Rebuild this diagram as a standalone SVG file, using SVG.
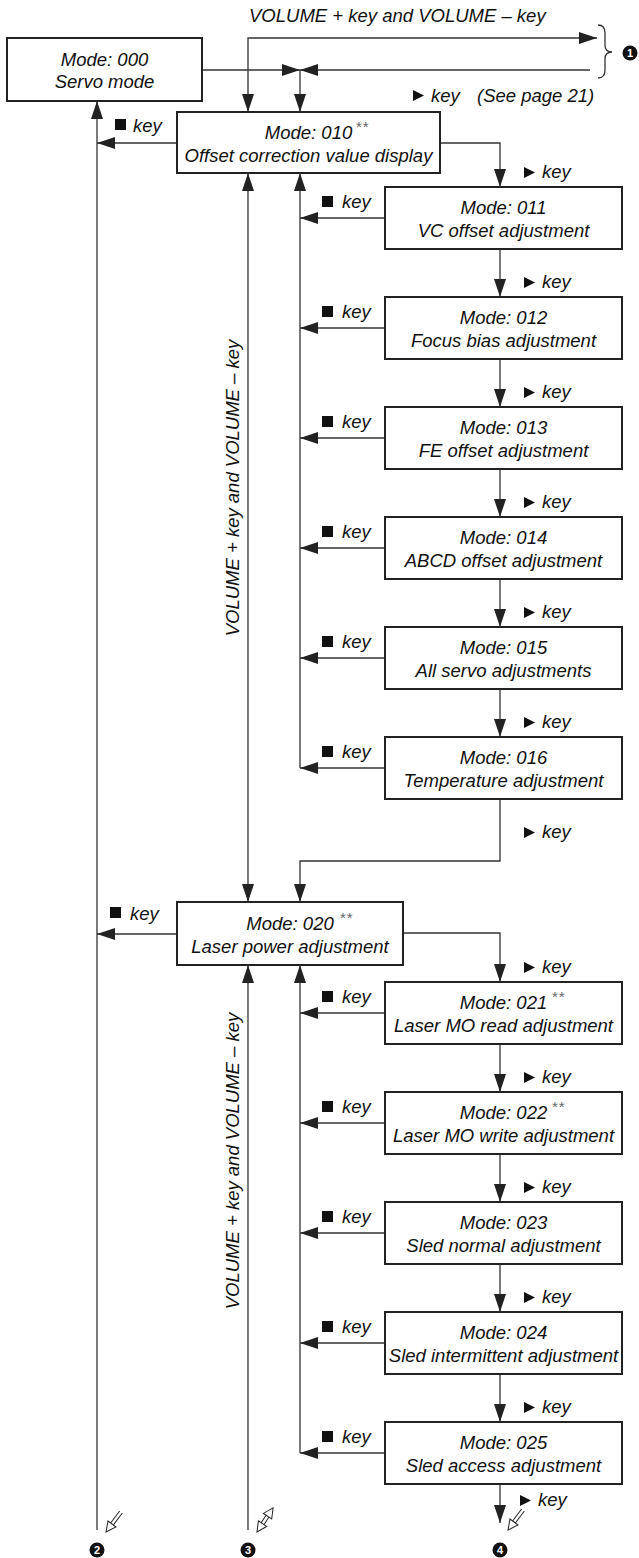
<svg xmlns="http://www.w3.org/2000/svg" xmlns:xlink="http://www.w3.org/1999/xlink" width="639" height="1558" viewBox="0 0 639 1558">
<style>
.bg{fill:#fff}
.box{fill:#fff;stroke:#222;stroke-width:2}
.ln{fill:none;stroke:#333;stroke-width:1.3}
.t{font-family:"Liberation Sans",Arial,sans-serif;font-style:italic;font-size:18.5px;fill:#111}
.c{text-anchor:middle}
.ast{font-family:"Liberation Sans",Arial,sans-serif;font-size:15px;fill:#666;letter-spacing:1px}
.num{font-family:"Liberation Sans",Arial,sans-serif;font-weight:bold;font-size:11px;fill:#fff;text-anchor:middle}
.sym{fill:#111}
.dbl{fill:#fff;stroke:#222;stroke-width:1}
</style>
<defs>
<marker id="ah" viewBox="0 0 18 12" refX="18" refY="6" markerWidth="18" markerHeight="12" markerUnits="userSpaceOnUse" orient="auto-start-reverse"><path d="M0,0 L18,6 L0,12 z" fill="#222"/></marker>
<path id="tri" d="M0,0 L11,5.5 L0,11 z"/>
<g id="harrow"><path d="M0,-1.7 L16,-1.7 M0,1.7 L16,1.7" stroke="#222" stroke-width="1" fill="none"/><path class="dbl" d="M25,0 L15,-5 L15,5 z"/></g>
<g id="harrow2"><path d="M9,-1.7 L20,-1.7 M9,1.7 L20,1.7" stroke="#222" stroke-width="1" fill="none"/><path class="dbl" d="M29,0 L19,-5 L19,5 z"/><path class="dbl" d="M0,0 L10,-5 L10,5 z"/></g>
</defs>
<rect class="bg" x="0" y="0" width="639" height="1558"/>

<g id="connectors">
<path class="ln" d="M248,112 L248,38 L597,38" marker-start="url(#ah)" marker-end="url(#ah)"/>
<path class="ln" d="M202,70 L300,70" marker-end="url(#ah)"/>
<path class="ln" d="M590,70 L300,70" marker-end="url(#ah)"/>
<path class="ln" d="M300,70 L300,112" marker-end="url(#ah)"/>
<path class="ln" d="M598,25 Q605,25 605,33 L605,45 Q605,52 612,52 Q605,52 605,59 L605,70 Q605,78 598,78"/>
<path class="ln" d="M97,1530 L97,101" marker-end="url(#ah)"/>
<path class="ln" d="M177,143 L97,143" marker-end="url(#ah)"/>
<path class="ln" d="M440,143 L500,143 L500,187" marker-end="url(#ah)"/>
<path class="ln" d="M248,173 L248,902" marker-start="url(#ah)" marker-end="url(#ah)"/>
<path class="ln" d="M300,768 L300,173" marker-end="url(#ah)"/>
<path class="ln" d="M385,218 L300,218" marker-end="url(#ah)"/>
<path class="ln" d="M385,328 L300,328" marker-end="url(#ah)"/>
<path class="ln" d="M385,438 L300,438" marker-end="url(#ah)"/>
<path class="ln" d="M385,548 L300,548" marker-end="url(#ah)"/>
<path class="ln" d="M385,658 L300,658" marker-end="url(#ah)"/>
<path class="ln" d="M385,768 L300,768" marker-end="url(#ah)"/>
<path class="ln" d="M500,249 L500,297" marker-end="url(#ah)"/>
<path class="ln" d="M500,359 L500,407" marker-end="url(#ah)"/>
<path class="ln" d="M500,469 L500,517" marker-end="url(#ah)"/>
<path class="ln" d="M500,579 L500,627" marker-end="url(#ah)"/>
<path class="ln" d="M500,689 L500,737" marker-end="url(#ah)"/>
<path class="ln" d="M500,799 L500,861 L300,861 L300,902" marker-end="url(#ah)"/>
<path class="ln" d="M177,934 L97,934" marker-end="url(#ah)"/>
<path class="ln" d="M403,933 L500,933 L500,982" marker-end="url(#ah)"/>
<path class="ln" d="M248,1530 L248,965" marker-end="url(#ah)"/>
<path class="ln" d="M300,1453 L300,965" marker-end="url(#ah)"/>
<path class="ln" d="M385,1013 L300,1013" marker-end="url(#ah)"/>
<path class="ln" d="M385,1123 L300,1123" marker-end="url(#ah)"/>
<path class="ln" d="M385,1233 L300,1233" marker-end="url(#ah)"/>
<path class="ln" d="M385,1343 L300,1343" marker-end="url(#ah)"/>
<path class="ln" d="M385,1453 L300,1453" marker-end="url(#ah)"/>
<path class="ln" d="M500,1044 L500,1092" marker-end="url(#ah)"/>
<path class="ln" d="M500,1154 L500,1202" marker-end="url(#ah)"/>
<path class="ln" d="M500,1264 L500,1312" marker-end="url(#ah)"/>
<path class="ln" d="M500,1374 L500,1422" marker-end="url(#ah)"/>
<path class="ln" d="M500,1484 L500,1523" marker-end="url(#ah)"/>
<use xlink:href="#harrow" href="#harrow" transform="translate(121,1512) rotate(126.87)"/>
<use xlink:href="#harrow2" href="#harrow2" transform="translate(257,1532) rotate(-56.3)"/>
<use xlink:href="#harrow" href="#harrow" transform="translate(523,1510) rotate(126.87)"/>
</g>

<g id="labels">
<text class="t" x="249" y="22">VOLUME + key and VOLUME – key</text>
<use class="sym" href="#tri" xlink:href="#tri" x="413" y="90"/>
<text class="t" x="431" y="102">key</text>
<text class="t" x="477" y="102">(See page 21)</text>
<text class="t c" transform="translate(239,488) rotate(-90)">VOLUME + key and VOLUME – key</text>
<text class="t c" transform="translate(239,1161) rotate(-90)">VOLUME + key and VOLUME – key</text>
<rect class="sym" x="115" y="119" width="11" height="11"/><text class="t" x="133" y="132">key</text>
<rect class="sym" x="110" y="907" width="11" height="11"/><text class="t" x="130" y="920">key</text>
<use class="sym" href="#tri" xlink:href="#tri" x="524" y="167"/><text class="t" x="542" y="178">key</text>
<use class="sym" href="#tri" xlink:href="#tri" x="524" y="277"/><text class="t" x="542" y="288">key</text>
<use class="sym" href="#tri" xlink:href="#tri" x="524" y="387"/><text class="t" x="542" y="398">key</text>
<use class="sym" href="#tri" xlink:href="#tri" x="524" y="497"/><text class="t" x="542" y="508">key</text>
<use class="sym" href="#tri" xlink:href="#tri" x="524" y="607"/><text class="t" x="542" y="618">key</text>
<use class="sym" href="#tri" xlink:href="#tri" x="524" y="717"/><text class="t" x="542" y="728">key</text>
<use class="sym" href="#tri" xlink:href="#tri" x="524" y="827"/><text class="t" x="542" y="838">key</text>
<use class="sym" href="#tri" xlink:href="#tri" x="524" y="962"/><text class="t" x="542" y="973">key</text>
<use class="sym" href="#tri" xlink:href="#tri" x="524" y="1072"/><text class="t" x="542" y="1083">key</text>
<use class="sym" href="#tri" xlink:href="#tri" x="524" y="1182"/><text class="t" x="542" y="1193">key</text>
<use class="sym" href="#tri" xlink:href="#tri" x="524" y="1292"/><text class="t" x="542" y="1303">key</text>
<use class="sym" href="#tri" xlink:href="#tri" x="524" y="1402"/><text class="t" x="542" y="1413">key</text>
<use class="sym" href="#tri" xlink:href="#tri" x="520" y="1495"/><text class="t" x="538" y="1506">key</text>
<rect class="sym" x="322" y="196" width="11" height="11"/><text class="t" x="342" y="208">key</text>
<rect class="sym" x="322" y="306" width="11" height="11"/><text class="t" x="342" y="318">key</text>
<rect class="sym" x="322" y="416" width="11" height="11"/><text class="t" x="342" y="428">key</text>
<rect class="sym" x="322" y="526" width="11" height="11"/><text class="t" x="342" y="538">key</text>
<rect class="sym" x="322" y="636" width="11" height="11"/><text class="t" x="342" y="648">key</text>
<rect class="sym" x="322" y="746" width="11" height="11"/><text class="t" x="342" y="758">key</text>
<rect class="sym" x="322" y="991" width="11" height="11"/><text class="t" x="342" y="1003">key</text>
<rect class="sym" x="322" y="1101" width="11" height="11"/><text class="t" x="342" y="1113">key</text>
<rect class="sym" x="322" y="1211" width="11" height="11"/><text class="t" x="342" y="1223">key</text>
<rect class="sym" x="322" y="1321" width="11" height="11"/><text class="t" x="342" y="1333">key</text>
<rect class="sym" x="322" y="1431" width="11" height="11"/><text class="t" x="342" y="1443">key</text>
<circle class="sym" cx="630" cy="53" r="7.5"/><text class="num" x="630" y="57">1</text>
<circle class="sym" cx="97" cy="1550" r="7.5"/><text class="num" x="97" y="1554">2</text>
<circle class="sym" cx="248" cy="1550" r="7.5"/><text class="num" x="248" y="1554">3</text>
<circle class="sym" cx="500" cy="1550" r="7.5"/><text class="num" x="500" y="1554">4</text>
</g>

<g id="n000"><rect class="box" x="7" y="38" width="195" height="63"/><text class="t c" x="104.5" y="66">Mode: 000</text><text class="t c" x="104.5" y="88">Servo mode</text></g>
<g id="n010"><rect class="box" x="177" y="112" width="263" height="61"/><text class="t c" x="308.5" y="139">Mode: 010</text><text class="ast" x="356" y="132">**</text><text class="t c" x="308.5" y="162">Offset correction value display</text></g>
<g id="n011"><rect class="box" x="385" y="187" width="237" height="62"/><text class="t c" x="503.5" y="214">Mode: 011</text><text class="t c" x="503.5" y="237">VC offset adjustment</text></g>
<g id="n012"><rect class="box" x="385" y="297" width="237" height="62"/><text class="t c" x="503.5" y="324">Mode: 012</text><text class="t c" x="503.5" y="347">Focus bias adjustment</text></g>
<g id="n013"><rect class="box" x="385" y="407" width="237" height="62"/><text class="t c" x="503.5" y="434">Mode: 013</text><text class="t c" x="503.5" y="457">FE offset adjustment</text></g>
<g id="n014"><rect class="box" x="385" y="517" width="237" height="62"/><text class="t c" x="503.5" y="544">Mode: 014</text><text class="t c" x="503.5" y="567">ABCD offset adjustment</text></g>
<g id="n015"><rect class="box" x="385" y="627" width="237" height="62"/><text class="t c" x="503.5" y="654">Mode: 015</text><text class="t c" x="503.5" y="677">All servo adjustments</text></g>
<g id="n016"><rect class="box" x="385" y="737" width="237" height="62"/><text class="t c" x="503.5" y="764">Mode: 016</text><text class="t c" x="503.5" y="787">Temperature adjustment</text></g>
<g id="n020"><rect class="box" x="177" y="902" width="226" height="63"/><text class="t c" x="290" y="930">Mode: 020</text><text class="ast" x="340" y="923">**</text><text class="t c" x="290" y="953">Laser power adjustment</text></g>
<g id="n021"><rect class="box" x="385" y="982" width="237" height="62"/><text class="t c" x="503.5" y="1009">Mode: 021</text><text class="ast" x="552" y="1002">**</text><text class="t c" x="503.5" y="1032">Laser MO read adjustment</text></g>
<g id="n022"><rect class="box" x="385" y="1092" width="237" height="62"/><text class="t c" x="503.5" y="1119">Mode: 022</text><text class="ast" x="552" y="1112">**</text><text class="t c" x="503.5" y="1142">Laser MO write adjustment</text></g>
<g id="n023"><rect class="box" x="385" y="1202" width="237" height="62"/><text class="t c" x="503.5" y="1229">Mode: 023</text><text class="t c" x="503.5" y="1252">Sled normal adjustment</text></g>
<g id="n024"><rect class="box" x="385" y="1312" width="237" height="62"/><text class="t c" x="503.5" y="1339">Mode: 024</text><text class="t c" x="503.5" y="1362">Sled intermittent adjustment</text></g>
<g id="n025"><rect class="box" x="385" y="1422" width="237" height="62"/><text class="t c" x="503.5" y="1449">Mode: 025</text><text class="t c" x="503.5" y="1472">Sled access adjustment</text></g>
</svg>
